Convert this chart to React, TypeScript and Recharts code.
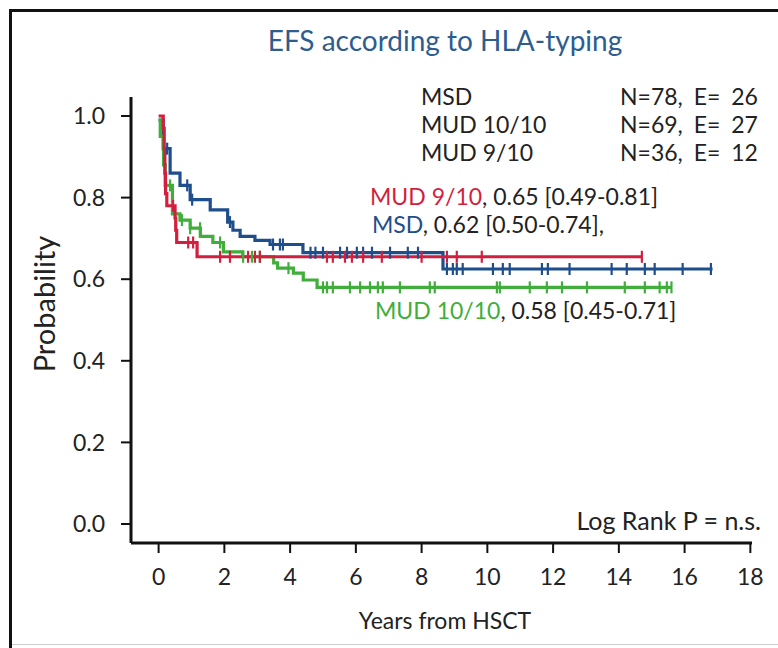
import { ComposedChart, Line, XAxis, YAxis } from 'recharts'

// step function knots: time (years) -> survival estimate
const msdTimes = [0, 0.14, 0.35, 0.65, 0.96, 1.57, 2.1, 2.26, 2.48, 2.93, 3.39, 4.39, 8.65, 16.85]
const msdSurv = [0.99, 0.92, 0.86, 0.83, 0.795, 0.77, 0.74, 0.72, 0.705, 0.695, 0.685, 0.665, 0.625, 0.625]

const mud10Times = [0, 0.05, 0.15, 0.2, 0.42, 0.65, 0.96, 1.27, 1.65, 1.97, 2.56, 3.5, 3.62, 4.1, 4.4, 4.82, 15.6]
const mud10Surv = [0.99, 0.95, 0.88, 0.83, 0.76, 0.745, 0.725, 0.705, 0.69, 0.667, 0.655, 0.64, 0.627, 0.615, 0.598, 0.58, 0.58]

const mud9Times = [0, 0.14, 0.17, 0.19, 0.21, 0.25, 0.5, 0.52, 0.55, 1.17, 14.7]
const mud9Surv = [1.0, 0.97, 0.92, 0.86, 0.81, 0.78, 0.75, 0.72, 0.69, 0.655, 0.655]

// censoring times
const msdCensor = [0.26, 0.87, 1.02, 2.17, 3.48, 3.69, 3.78, 4.62, 4.77, 5.0, 5.52, 5.73, 6.03, 6.22, 6.49, 7.04, 7.58, 7.89, 8.77, 8.95, 9.07, 9.25, 10.17, 10.47, 10.68, 11.66, 11.84, 12.5, 13.78, 14.24, 14.79, 15.09, 15.94, 16.8]
const mud10Censor = [0.35, 0.71, 0.96, 1.26, 1.87, 2.57, 2.84, 3.08, 3.95, 5.0, 5.12, 5.3, 5.82, 6.13, 6.43, 6.67, 6.82, 7.34, 8.25, 8.4, 10.29, 10.38, 11.29, 11.81, 12.27, 13.03, 14.18, 14.79, 15.24, 15.46, 15.6]
const mud9Censor = [0.44, 0.9, 1.05, 1.87, 2.17, 2.72, 2.93, 3.08, 5.12, 5.3, 5.67, 5.88, 6.22, 6.79, 8.0, 8.77, 9.07, 9.83, 14.7]

const xTicks = [0, 2, 4, 6, 8, 10, 12, 14, 16, 18]
const yTicks = [0, 0.2, 0.4, 0.6, 0.8, 1.0]

const BLUE = '#1f4e8d'
const RED = '#d31f3e'
const GREEN = '#3fae3a'
const TXT = '#222'
const FONT = 'Lato, "Open Sans", sans-serif'

const toRows = (times: number[], surv: number[]) => times.map((t, i) => ({ t, s: surv[i] }))

const levelAt = (times: number[], surv: number[], t: number) => {
  let s = surv[0]
  for (let i = 0; i < times.length; i++) if (times[i] <= t) s = surv[i]
  return s
}

const censorRows = (c: number[], times: number[], surv: number[]) =>
  c.map((t) => ({ t, s: levelAt(times, surv, t) }))

const censorDot = (color: string) => (p: any) => (
  <line
    key={`c-${p.index}`}
    x1={p.cx}
    x2={p.cx}
    y1={p.cy - 6}
    y2={p.cy + 6}
    stroke={color}
    strokeWidth={2.2}
  />
)

const txt = (extra: React.CSSProperties): React.CSSProperties => ({
  position: 'absolute',
  fontFamily: FONT,
  color: TXT,
  whiteSpace: 'nowrap',
  lineHeight: 1,
  ...extra,
})

export default function App() {
  const series = [
    { name: 'msd', times: msdTimes, surv: msdSurv, censor: msdCensor, color: BLUE },
    { name: 'mud10', times: mud10Times, surv: mud10Surv, censor: mud10Censor, color: GREEN },
    { name: 'mud9', times: mud9Times, surv: mud9Surv, censor: mud9Censor, color: RED },
  ]
  return (
    <div style={{ position: 'absolute', left: 0, top: 0, width: 778, height: 648, background: '#fff', overflow: 'hidden' }}>
      <div style={{ position: 'absolute', left: 9, top: 9, width: 769, height: 639, borderLeft: '3px solid #111', borderTop: '3px solid #111' }} />
      <div style={{ position: 'absolute', left: 12, top: 644, width: 766, height: 1, background: '#ccc' }} />
      <ComposedChart width={778} height={648} margin={{ top: 97, right: 26, bottom: 0, left: 0 }}>
        <XAxis
          type="number"
          dataKey="t"
          domain={[-0.84, 18.05]}
          ticks={xTicks}
          allowDataOverflow
          height={105}
          tickSize={10}
          tickMargin={16}
          axisLine={{ stroke: '#111', strokeWidth: 3 }}
          tickLine={{ stroke: '#111', strokeWidth: 2 }}
          tick={{ fill: TXT, fontSize: 23, fontFamily: FONT }}
        />
        <YAxis
          type="number"
          domain={[-0.0466, 1.0466]}
          ticks={yTicks}
          allowDataOverflow
          width={131}
          tickSize={10}
          tickMargin={16}
          tickFormatter={(v: number) => v.toFixed(1)}
          axisLine={{ stroke: '#111', strokeWidth: 3 }}
          tickLine={{ stroke: '#111', strokeWidth: 2 }}
          tick={{ fill: TXT, fontSize: 23, fontFamily: FONT }}
        />
        {series.map((s) => (
          <Line
            key={s.name}
            data={toRows(s.times, s.surv)}
            dataKey="s"
            type="stepAfter"
            stroke={s.color}
            strokeWidth={3.2}
            dot={false}
            activeDot={false}
            isAnimationActive={false}
          />
        ))}
        {series.map((s) => (
          <Line
            key={s.name + '-c'}
            data={censorRows(s.censor, s.times, s.surv)}
            dataKey="s"
            stroke="none"
            dot={censorDot(s.color)}
            activeDot={false}
            isAnimationActive={false}
          />
        ))}
      </ComposedChart>

      <div style={txt({ left: 445, top: 40, fontSize: 28, color: '#2d5d8e', transform: 'translate(-50%, -50%)' })}>
        EFS according to HLA-typing
      </div>

      <div style={txt({ left: 421, top: 85, fontSize: 23 })}>MSD</div>
      <div style={txt({ left: 421, top: 113, fontSize: 23 })}>MUD 10/10</div>
      <div style={txt({ left: 421, top: 141, fontSize: 23 })}>MUD 9/10</div>
      <div style={txt({ left: 620, top: 85, fontSize: 23, wordSpacing: 5 })}>N=78, E= 26</div>
      <div style={txt({ left: 620, top: 113, fontSize: 23, wordSpacing: 5 })}>N=69, E= 27</div>
      <div style={txt({ left: 620, top: 141, fontSize: 23, wordSpacing: 5 })}>N=36, E= 12</div>

      <div style={txt({ left: 370, top: 185, fontSize: 23 })}>
        <span style={{ color: RED }}>MUD 9/10</span>, 0.65 [0.49-0.81]
      </div>
      <div style={txt({ left: 372, top: 213, fontSize: 23 })}>
        <span style={{ color: BLUE }}>MSD</span>, 0.62 [0.50-0.74],
      </div>
      <div style={txt({ left: 375, top: 299, fontSize: 23 })}>
        <span style={{ color: GREEN }}>MUD 10/10</span>, 0.58 [0.45-0.71]
      </div>
      <div style={txt({ right: 17, top: 508, fontSize: 25 })}>Log Rank P = n.s.</div>

      <div style={txt({ left: 445, top: 620, fontSize: 23, transform: 'translate(-50%, -50%)' })}>Years from HSCT</div>
      <div
        style={txt({
          left: 43,
          top: 304,
          fontSize: 29,
          transform: 'translate(-50%, -50%) rotate(-90deg)',
        })}
      >
        Probability
      </div>
    </div>
  )
}
